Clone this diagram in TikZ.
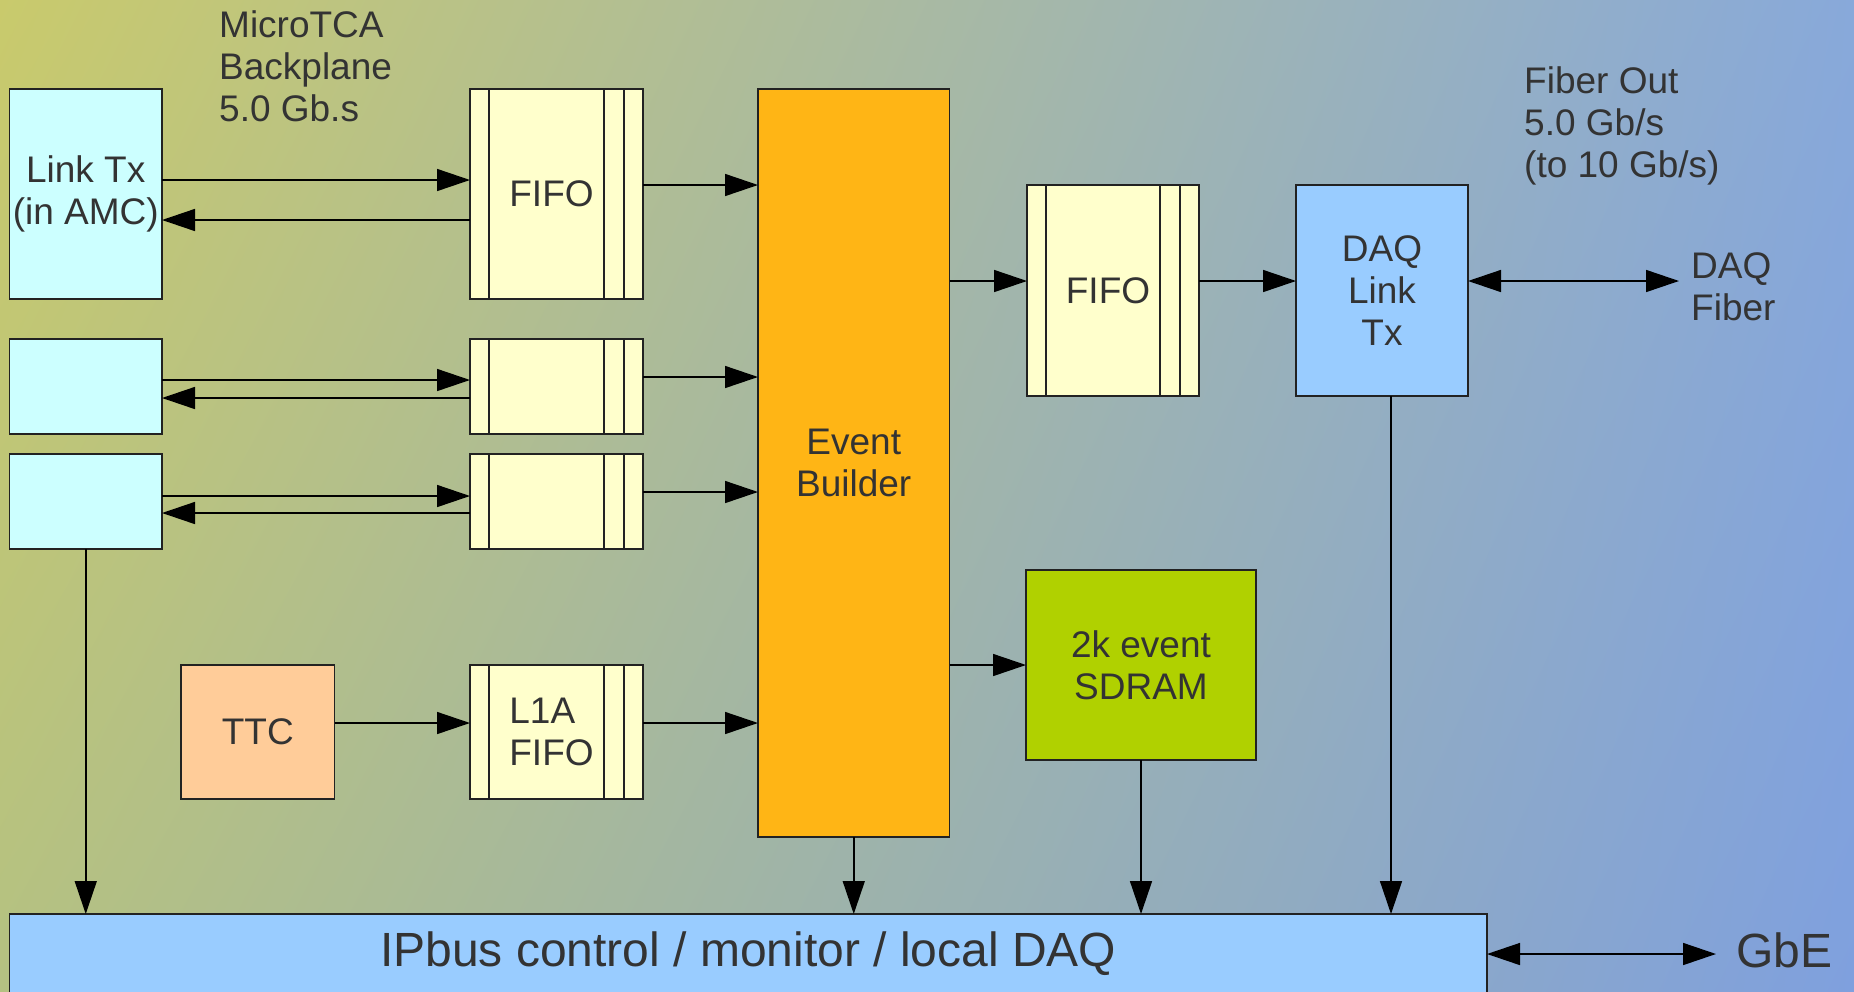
\documentclass[tikz,border=0pt]{standalone}
\usepackage{fontspec}
\setmainfont{Liberation Sans}
\usetikzlibrary{arrows.meta,shadings}
\definecolor{bgUL}{HTML}{C9CA6C}
\definecolor{bgUR}{HTML}{88A9DA}
\definecolor{bgLL}{HTML}{B4C182}
\definecolor{bgLR}{HTML}{7FA0DE}
\definecolor{txt}{HTML}{333333}
\definecolor{linec}{HTML}{222222}
\definecolor{cyanbox}{HTML}{CCFFFF}
\definecolor{fifoc}{HTML}{FFFFCC}
\definecolor{ebc}{HTML}{FFB515}
\definecolor{bluebox}{HTML}{99CCFF}
\definecolor{ttcc}{HTML}{FFCC99}
\definecolor{sdramc}{HTML}{B0D100}
\newcommand\dgbody{\fontsize{37}{42}\selectfont}
\newcommand\dgbig{\fontsize{48}{54}\selectfont}
\newcommand\fifopad{\hspace*{10pt}}
\begin{document}
\begin{tikzpicture}[x=1pt,y=-1pt,
  box/.style={draw=linec, line width=1.5pt, inner sep=0pt, outer sep=0pt,
    text=txt, font=\dgbody, align=center},
  fifo/.style={box, fill=fifoc, align=left, path picture={
    \draw[linec, line width=1.5pt]
      ([xshift=19pt]path picture bounding box.north west) -- ([xshift=19pt]path picture bounding box.south west)
      ([xshift=-19pt]path picture bounding box.north east) -- ([xshift=-19pt]path picture bounding box.south east)
      ([xshift=-39pt]path picture bounding box.north east) -- ([xshift=-39pt]path picture bounding box.south east);}},
  lbl/.style={text=txt, font=\dgbody, align=left, inner sep=0pt},
  arr/.style={draw=black, line width=1.5pt, -{Triangle[length=33pt,width=22pt]}},
  darr/.style={draw=black, line width=1.5pt, {Triangle[length=33pt,width=22pt]}-{Triangle[length=33pt,width=22pt]}}
]
\useasboundingbox (0,0) rectangle (1854,991);
\clip (0,0) rectangle (1854,991);
\shade[upper left=bgUL, upper right=bgUR, lower left=bgLL, lower right=bgLR] (0,0) rectangle (1854,991);

% left link boxes
\node[box, fill=cyanbox, minimum width=152.5pt, minimum height=210pt] (lt1) at (85.75,194) {Link Tx\\(in AMC)};
\node[box, fill=cyanbox, minimum width=152.5pt, minimum height=95pt] (lt2) at (85.75,386.5) {};
\node[box, fill=cyanbox, minimum width=152.5pt, minimum height=95pt] (lt3) at (85.75,501.5) {};

% FIFOs
\node[fifo, minimum width=173pt, minimum height=210pt] (f1) at (556.5,194) {FIFO\fifopad};
\node[fifo, minimum width=173pt, minimum height=95pt] (f2) at (556.5,386.5) {};
\node[fifo, minimum width=173pt, minimum height=95pt] (f3) at (556.5,501.5) {};
\node[fifo, minimum width=173pt, minimum height=134pt] (l1a) at (556.5,732) {L1A\\FIFO\fifopad};
\node[box, fill=ttcc, minimum width=153.5pt, minimum height=134pt] (ttc) at (257.75,732) {TTC};

% Event builder
\node[box, fill=ebc, minimum width=191.5pt, minimum height=748pt] (eb) at (853.75,463) {Event\\Builder};

% right side
\node[fifo, minimum width=172pt, minimum height=211pt] (f4) at (1113,290.5) {FIFO\fifopad};
\node[box, fill=bluebox, minimum width=172pt, minimum height=211pt] (daq) at (1382,290.5) {DAQ\\Link\\Tx};
\node[box, fill=sdramc, minimum width=230pt, minimum height=190pt] (sdram) at (1141,665) {2k event\\SDRAM};

% IPbus
\node[box, fill=bluebox, font=\dgbig, minimum width=1477.5pt, minimum height=80pt] (ipbus) at (748.25,954) {IPbus control / monitor / local DAQ};

% labels
\node[lbl, anchor=north west] (micro) at (219,10.7) {MicroTCA\\Backplane\\5.0 Gb.s};
\node[lbl, anchor=north west] (fout) at (1524,66.7) {Fiber Out\\5.0 Gb/s\\(to 10 Gb/s)};
\node[lbl, anchor=north west, inner xsep=12pt] (fiber) at (1679,252) {DAQ\\Fiber};
\node[lbl, font=\dgbig, anchor=north west, inner xsep=20pt] (gbe) at (1716,933) {GbE};

% connectors: links <-> FIFOs
\draw[arr] ([yshift=14pt]lt1.east) -- ([yshift=14pt]f1.west);
\draw[arr] ([yshift=-26pt]f1.west) -- ([yshift=-26pt]lt1.east);
\draw[arr] ([yshift=6.5pt]lt2.east) -- ([yshift=6.5pt]f2.west);
\draw[arr] ([yshift=-11.5pt]f2.west) -- ([yshift=-11.5pt]lt2.east);
\draw[arr] ([yshift=5.5pt]lt3.east) -- ([yshift=5.5pt]f3.west);
\draw[arr] ([yshift=-11.5pt]f3.west) -- ([yshift=-11.5pt]lt3.east);

% FIFOs -> event builder
\coordinate (c1) at ([yshift=9pt]f1.east);
\draw[arr] (c1) -- (c1 -| eb.west);
\coordinate (c2) at ([yshift=9.5pt]f2.east);
\draw[arr] (c2) -- (c2 -| eb.west);
\coordinate (c3) at ([yshift=9.5pt]f3.east);
\draw[arr] (c3) -- (c3 -| eb.west);
\draw[arr] ([yshift=9pt]ttc.east) -- ([yshift=9pt]l1a.west);
\coordinate (c4) at ([yshift=9pt]l1a.east);
\draw[arr] (c4) -- (c4 -| eb.west);

% event builder -> right side
\coordinate (c5) at ([yshift=9.5pt]f4.west);
\draw[arr] (c5 -| eb.east) -- (c5);
\draw[arr] ([yshift=9.5pt]f4.east) -- ([yshift=9.5pt]daq.west);
\coordinate (c6) at ([yshift=9.5pt]daq.east);
\draw[darr] (c6) -- (c6 -| fiber.west);
\draw[arr] (sdram.west -| eb.east) -- (sdram.west);

% down to IPbus
\draw[arr] (lt3.south) -- (lt3.south |- ipbus.north);
\draw[arr] (eb.south) -- (eb.south |- ipbus.north);
\draw[arr] (sdram.south) -- (sdram.south |- ipbus.north);
\coordinate (c7) at ([xshift=9pt]daq.south);
\draw[arr] (c7) -- (c7 |- ipbus.north);
\draw[darr] (ipbus.east) -- (ipbus.east -| gbe.west);
\end{tikzpicture}
\end{document}
